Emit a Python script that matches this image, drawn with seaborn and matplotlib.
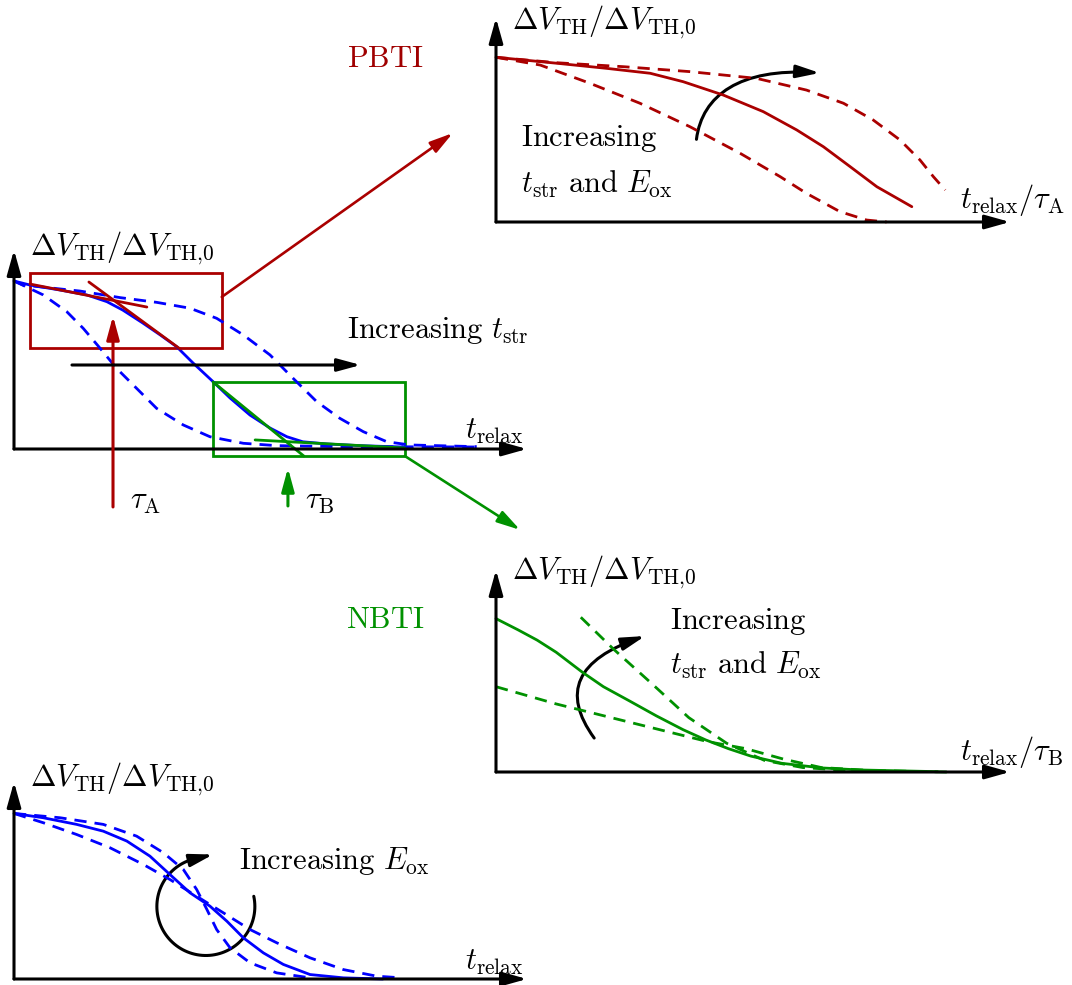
import numpy as np
import matplotlib
matplotlib.use("Agg")
import matplotlib.pyplot as plt
from matplotlib.patches import Rectangle, FancyArrowPatch, ConnectionPatch
from matplotlib.path import Path
import seaborn as sns

sns.set_style("white")
plt.rcParams["mathtext.fontset"] = "cm"
plt.rcParams["font.family"] = ["DejaVu Serif", "DejaVu Sans"]
plt.rcParams["text.color"] = "black"

RED = "#AA0000"
GREEN = "#009100"
BLUE = "#0000FF"
FS = 22
LW = 2.0
DASH = (0, (4.4, 2.9))
YLABEL = r"$\Delta V_{\mathrm{TH}}/\Delta V_{\mathrm{TH{,}0}}$"

# ---- overview: recovery of dV_TH over relaxation time (blue) ----
ov_t_solid = [0.00, 0.31, 0.90, 1.42, 1.81, 2.12, 2.51, 2.85, 3.17, 3.49, 3.88,
              4.21, 4.60, 4.99, 5.32, 5.63, 6.10, 6.74, 7.58]
ov_v_solid = [1.000, 0.976, 0.946, 0.917, 0.877, 0.827, 0.750, 0.679, 0.609, 0.512,
              0.401, 0.304, 0.202, 0.125, 0.073, 0.043, 0.030, 0.020, 0.012]
ov_t_short = [0.00, 0.57, 1.03, 1.35, 1.68, 2.00, 2.39, 2.78, 3.30, 3.82, 4.47,
              5.12, 6.41, 9.02]
ov_v_short = [1.000, 0.917, 0.817, 0.718, 0.599, 0.480, 0.361, 0.242, 0.143, 0.073,
              0.034, 0.020, 0.014, 0.012]
ov_t_long = [0.00, 0.18, 1.29, 2.07, 2.78, 3.43, 3.95, 4.47, 4.99, 5.44, 5.90,
             6.35, 6.81, 7.27, 7.72, 9.02]
ov_v_long = [1.000, 0.976, 0.940, 0.901, 0.873, 0.838, 0.778, 0.679, 0.560, 0.421,
             0.282, 0.183, 0.103, 0.043, 0.024, 0.014]
# tangents defining the two time constants
tanA_steep_t, tanA_steep_v = [1.46, 3.24], [0.994, 0.595]
tanA_flat_t, tanA_flat_v = [0.31, 2.59], [0.982, 0.845]
tanB_steep_t, tanB_steep_v = [3.88, 5.65], [0.399, -0.042]
tanB_flat_t, tanB_flat_v = [4.70, 7.62], [0.054, 0.006]
tau_A, tau_B = 1.93, 5.34

# ---- PBTI, normalised to tau_A ----
pb_t_solid = [0.00, 1.18, 2.15, 3.00, 3.64, 4.42, 5.20, 5.85, 6.37, 6.89, 7.41, 8.09]
pb_v_solid = [1.000, 0.964, 0.933, 0.903, 0.852, 0.771, 0.670, 0.559, 0.457, 0.336,
              0.214, 0.093]
pb_t_low = [0.00, 0.86, 1.83, 2.80, 3.77, 4.75, 5.53, 6.04, 6.69, 7.21, 7.60]
pb_v_low = [1.000, 0.953, 0.842, 0.721, 0.579, 0.417, 0.275, 0.174, 0.063, 0.012, 0.000]
pb_t_high = [0.00, 1.18, 2.48, 3.77, 5.07, 6.04, 6.76, 7.34, 7.86, 8.25, 8.51, 8.74]
pb_v_high = [1.000, 0.967, 0.943, 0.913, 0.872, 0.801, 0.721, 0.619, 0.498, 0.376,
             0.275, 0.194]

# ---- NBTI, normalised to tau_B ----
nb_t_solid = [0.00, 0.43, 0.80, 1.17, 1.68, 2.09, 2.60, 3.12, 3.64, 4.08, 4.52,
              4.96, 5.56, 6.33, 7.07, 8.59]
nb_v_solid = [0.899, 0.833, 0.773, 0.702, 0.585, 0.500, 0.416, 0.329, 0.248, 0.188,
              0.137, 0.093, 0.051, 0.024, 0.012, 0.002]
nb_t_low = [0.00, 1.17, 2.65, 4.12, 4.86, 5.60, 6.33, 7.44]
nb_v_low = [0.500, 0.399, 0.288, 0.178, 0.137, 0.075, 0.026, 0.006]
nb_t_high = [1.65, 2.28, 3.02, 3.75, 4.49, 5.23, 5.97, 6.70, 8.77]
nb_v_high = [0.907, 0.722, 0.521, 0.319, 0.168, 0.067, 0.026, 0.012, 0.000]

# ---- oxide field dependence ----
ef_t_solid = [0.00, 0.57, 1.22, 1.74, 2.20, 2.65, 3.04, 3.43, 3.82, 4.15, 4.47,
              4.86, 5.25, 5.77, 6.42, 7.19]
ef_v_solid = [1.000, 0.974, 0.934, 0.893, 0.833, 0.742, 0.631, 0.521, 0.440, 0.349,
              0.249, 0.158, 0.088, 0.027, 0.007, 0.000]
ef_t_steep = [0.00, 0.90, 1.74, 2.39, 2.91, 3.30, 3.56, 3.76, 3.95, 4.21, 4.60,
              5.12, 5.77]
ef_v_steep = [1.000, 0.974, 0.934, 0.863, 0.763, 0.662, 0.541, 0.420, 0.299, 0.189,
              0.098, 0.037, 0.007]
ef_t_flat = [0.00, 0.57, 1.22, 1.87, 2.52, 3.04, 3.56, 4.08, 4.60, 5.12, 5.77,
             6.42, 7.07, 7.46]
ef_v_flat = [1.000, 0.944, 0.873, 0.793, 0.692, 0.601, 0.500, 0.400, 0.299, 0.219,
             0.128, 0.057, 0.017, 0.009]

W, H = 1072, 985
fig = plt.figure(figsize=(W / 100, H / 100), dpi=100)


def panel(x0, y0, x1, y1, ymax, label_y):
    ax = fig.add_axes([x0 / W, (H - y0) / H, (x1 - x0) / W, (y0 - y1) / H])
    ax.set_xlim(0, 10)
    ax.set_ylim(0, ymax)
    ax.set_autoscale_on(False)
    ax.axis("off")
    head = "-|>,head_length=1.5,head_width=0.42"
    for end in [(1, 0), (0, 1)]:
        ax.annotate("", xy=end, xytext=(0, 0), xycoords="axes fraction",
                    arrowprops=dict(arrowstyle=head, color="black", lw=2.2,
                                    shrinkA=0, shrinkB=0, mutation_scale=10),
                    annotation_clip=False)
    ax.text(0.31, label_y, YLABEL, fontsize=FS, ha="left", va="center")
    return ax


def curve(ax, t, v, color, dashed=False, lw=LW):
    kw = dict(linestyle=DASH) if dashed else {}
    sns.lineplot(x=t, y=v, ax=ax, color=color, lw=lw, legend=False,
                 clip_on=False, **kw)


def arrow(ax, p0, p1, color, lw=2.2):
    ax.annotate("", xy=p1, xytext=p0,
                arrowprops=dict(arrowstyle="-|>,head_length=1.4,head_width=0.38",
                                color=color, lw=lw, shrinkA=0, shrinkB=0,
                                mutation_scale=10),
                annotation_clip=False)


def bent_arrow(ax, verts, codes):
    ax.add_patch(FancyArrowPatch(path=Path(verts, codes),
                                 arrowstyle="-|>,head_length=1.4,head_width=0.38",
                                 mutation_scale=10, color="black", lw=2.2,
                                 clip_on=False))


# overview panel
axA = panel(14, 449, 527, 250, 1.1845, 1.196)
curve(axA, ov_t_short, ov_v_short, BLUE, dashed=True)
curve(axA, ov_t_long, ov_v_long, BLUE, dashed=True)
curve(axA, ov_t_solid, ov_v_solid, BLUE)
curve(axA, tanA_steep_t, tanA_steep_v, RED)
curve(axA, tanA_flat_t, tanA_flat_v, RED)
curve(axA, tanB_steep_t, tanB_steep_v, GREEN)
curve(axA, tanB_flat_t, tanB_flat_v, GREEN)
axA.add_patch(Rectangle((0.31, 0.601), 4.05 - 0.31, 1.048 - 0.601, fill=False,
                        ec=RED, lw=LW, clip_on=False))
axA.add_patch(Rectangle((3.88, -0.042), 7.62 - 3.88, 0.399 + 0.042, fill=False,
                        ec=GREEN, lw=LW, clip_on=False))
arrow(axA, (tau_A, -0.345), (tau_A, 0.792), RED)
arrow(axA, (tau_B, -0.339), (tau_B, -0.113), GREEN)
arrow(axA, (1.13, 0.5), (6.76, 0.5), "black")
axA.text(2.26, -0.304, r"$\tau_{\mathrm{A}}$", fontsize=FS, ha="left", va="center")
axA.text(5.67, -0.304, r"$\tau_{\mathrm{B}}$", fontsize=FS, ha="left", va="center")
axA.text(6.49, 0.708, r"$\mathrm{Increasing}\ t_{\mathrm{str}}$", fontsize=FS,
         ha="left", va="center")
axA.text(8.79, 0.113, r"$t_{\mathrm{relax}}$", fontsize=FS, ha="left", va="center")

# PBTI panel
axB = panel(496, 222, 1010, 18, 1.2386, 1.214)
curve(axB, pb_t_low, pb_v_low, RED, dashed=True)
curve(axB, pb_t_high, pb_v_high, RED, dashed=True)
curve(axB, pb_t_solid, pb_v_solid, RED)
bent_arrow(axB, [(3.90, 0.502), (4.01, 0.771), (4.75, 0.935), (6.30, 0.905)],
           [Path.MOVETO, Path.CURVE4, Path.CURVE4, Path.CURVE4])
axB.text(0.49, 0.504, r"$\mathrm{Increasing}$", fontsize=FS, ha="left", va="center")
axB.text(0.49, 0.231, r"$t_{\mathrm{str}}\ \mathrm{and}\ E_{\mathrm{ox}}$",
         fontsize=FS, ha="left", va="center")
axB.text(9.03, 0.134, r"$t_{\mathrm{relax}}/\tau_{\mathrm{A}}$", fontsize=FS,
         ha="left", va="center")
axB.text(-2.16, 0.995, r"$\mathrm{PBTI}$", fontsize=FS, ha="center", va="center",
         color="#A00000")

# NBTI panel
axC = panel(496, 772, 1010, 570, 1.184, 1.172)
curve(axC, nb_t_low, nb_v_low, GREEN, dashed=True)
curve(axC, nb_t_high, nb_v_high, GREEN, dashed=True)
curve(axC, nb_t_solid, nb_v_solid, GREEN)
bent_arrow(axC, [(1.91, 0.199), (0.95, 0.598), (2.90, 0.797)],
           [Path.MOVETO, Path.CURVE3, Path.CURVE3])
axC.text(3.39, 0.885, r"$\mathrm{Increasing}$", fontsize=FS, ha="left", va="center")
axC.text(3.39, 0.627, r"$t_{\mathrm{str}}\ \mathrm{and}\ E_{\mathrm{ox}}$",
         fontsize=FS, ha="left", va="center")
axC.text(9.03, 0.117, r"$t_{\mathrm{relax}}/\tau_{\mathrm{B}}$", fontsize=FS,
         ha="left", va="center")
axC.text(-2.16, 0.891, r"$\mathrm{NBTI}$", fontsize=FS, ha="center", va="center",
         color=GREEN)

# oxide field panel
axD = panel(14, 979, 527, 782, 1.19, 1.205)
curve(axD, ef_t_steep, ef_v_steep, BLUE, dashed=True)
curve(axD, ef_t_flat, ef_v_flat, BLUE, dashed=True)
curve(axD, ef_t_solid, ef_v_solid, BLUE)
cx, cy, rx, ry = 3.74, 0.438, 0.955, 0.296
th = np.deg2rad(np.linspace(12, -251, 90))
ring = list(zip(cx + rx * np.cos(th), cy + ry * np.sin(th))) + [(3.88, 0.752)]
bent_arrow(axD, ring, [Path.MOVETO] + [Path.LINETO] * (len(ring) - 1))
axD.text(4.39, 0.712, r"$\mathrm{Increasing}\ E_{\mathrm{ox}}$", fontsize=FS,
         ha="left", va="center")
axD.text(8.79, 0.106, r"$t_{\mathrm{relax}}$", fontsize=FS, ha="left", va="center")

# zoom connectors
for xyA, axT, xyB, col in [((4.05, 0.905), axB, (-0.84, 0.540), RED),
                           ((7.62, -0.042), axC, (0.47, 1.419), GREEN)]:
    con = ConnectionPatch(xyA=xyA, coordsA=axA.transData, xyB=xyB,
                          coordsB=axT.transData,
                          arrowstyle="-|>,head_length=1.4,head_width=0.38",
                          mutation_scale=10, color=col, lw=1.9,
                          shrinkA=0, shrinkB=0)
    fig.add_artist(con)

fig.savefig("out.png", dpi=100)
